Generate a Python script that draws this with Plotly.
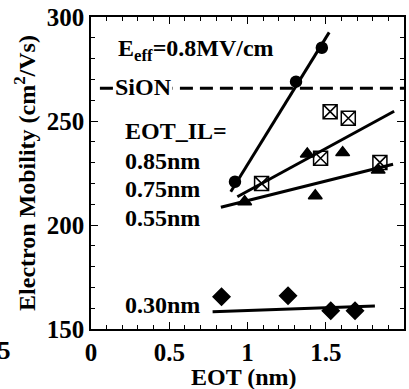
import plotly.graph_objects as go

# data
circ_x = [0.92, 1.31, 1.475]
circ_y = [220.8, 268.9, 285.2]
circ_fit_x = [0.893, 1.522]
circ_fit_y = [216.0, 292.6]

sq_x = [1.09, 1.467, 1.528, 1.644, 1.846]
sq_y = [220.0, 232.1, 254.5, 251.3, 230.1]
sq_fit_x = [0.935, 1.937]
sq_fit_y = [213.6, 254.7]

tri_x = [0.982, 1.382, 1.433, 1.608, 1.835]
tri_y = [211.2, 234.1, 214.1, 234.8, 226.4]
tri_fit_x = [0.83, 1.93]
tri_fit_y = [208.5, 229.2]

dia_x = [0.834, 1.259, 1.532, 1.687]
dia_y = [165.5, 166.0, 158.8, 158.8]
dia_fit_x = [0.777, 1.814]
dia_fit_y = [158.3, 161.1]

sion_y = 265.7

x_ticks = [0, 0.5, 1, 1.5, 2]
x_tick_labels = ["0", "0.5", "1", "1.5", "2"]
y_ticks = [150, 200, 250, 300]
y_tick_labels = ["150", "200", "250", "300"]

FONT = "Liberation Serif"

fig = go.Figure()

def add_fit(x, y):
    fig.add_trace(go.Scatter(x=x, y=y, mode="lines",
                             line=dict(color="black", width=3), showlegend=False))

def add_pts(x, y, symbol, size):
    fig.add_trace(go.Scatter(x=x, y=y, mode="markers",
                             marker=dict(symbol=symbol, size=size, color="black",
                                         line=dict(color="black", width=1.5)),
                             showlegend=False))

add_fit(circ_fit_x, circ_fit_y)
add_fit(sq_fit_x, sq_fit_y)
add_fit(tri_fit_x, tri_fit_y)
add_fit(dia_fit_x, dia_fit_y)
add_pts(circ_x, circ_y, "circle", 11)
add_pts(tri_x, tri_y, "triangle-up", 12)
add_pts(dia_x, dia_y, "diamond", 13)
fig.add_trace(go.Scatter(x=sq_x, y=sq_y, mode="markers",
                         marker=dict(symbol="square-x-open", size=14, color="black",
                                     line=dict(color="black", width=1.5)),
                         showlegend=False))

# SiON reference line
fig.add_shape(type="line", xref="x", yref="y", x0=0.057, x1=2.01, y0=sion_y, y1=sion_y,
              line=dict(color="black", width=3, dash="13px,7px"))

tf = dict(family=FONT, size=24, color="black", weight="bold")
ann = [
    dict(x=0.165, y=284, text="E<sub>eff</sub>=0.8MV/cm", xanchor="left"),
    dict(x=0.145, y=sion_y + 0.5, text="SiON", xanchor="left", bgcolor="white"),
    dict(x=0.21, y=245, text="EOT_IL=", xanchor="left"),
    dict(x=0.21, y=231, text="0.85nm", xanchor="left"),
    dict(x=0.21, y=217.5, text="0.75nm", xanchor="left"),
    dict(x=0.21, y=203.5, text="0.55nm", xanchor="left"),
    dict(x=0.21, y=161.5, text="0.30nm", xanchor="left"),
]
for a in ann:
    fig.add_annotation(xref="x", yref="y", showarrow=False, font=tf,
                       yanchor="middle", borderpad=0, **a)

# cropped tick label from a neighbouring panel
fig.add_annotation(xref="paper", yref="paper", x=-0.275, y=-0.07, text="5",
                   showarrow=False, font=dict(family=FONT, size=25, color="black", weight="bold"),
                   xanchor="center", yanchor="middle")

# x-axis title
fig.add_annotation(xref="paper", yref="paper", x=0.49, y=-0.154, text="EOT (nm)",
                   showarrow=False, font=dict(family=FONT, size=24, color="black", weight="bold"),
                   xanchor="center", yanchor="middle")

axis_common = dict(showline=True, linecolor="black", linewidth=1.5, mirror="ticks",
                   ticks="inside", tickcolor="black", ticklen=7, tickwidth=1.2,
                   showgrid=False, zeroline=False,
                   tickfont=dict(family=FONT, size=25, color="black", weight="bold"))

fig.update_xaxes(range=[0, 2], tickvals=x_ticks, ticktext=x_tick_labels,
                 minor=dict(dtick=0.1, ticks="inside", ticklen=4, tickcolor="black", tickwidth=1),
                 **axis_common)
fig.update_yaxes(range=[150, 300], tickvals=y_ticks, ticktext=y_tick_labels,
                 minor=dict(dtick=10, ticks="inside", ticklen=4, tickcolor="black", tickwidth=1),
                 title=dict(text="Electron Mobility (cm<sup>2</sup>/Vs)",
                            font=dict(family=FONT, size=24, color="black", weight="bold"),
                            standoff=4),
                 **axis_common)

fig.update_layout(width=409, height=389, margin=dict(l=91, r=3, t=17, b=60),
                  plot_bgcolor="white", paper_bgcolor="white")

fig.write_html("out.html")
